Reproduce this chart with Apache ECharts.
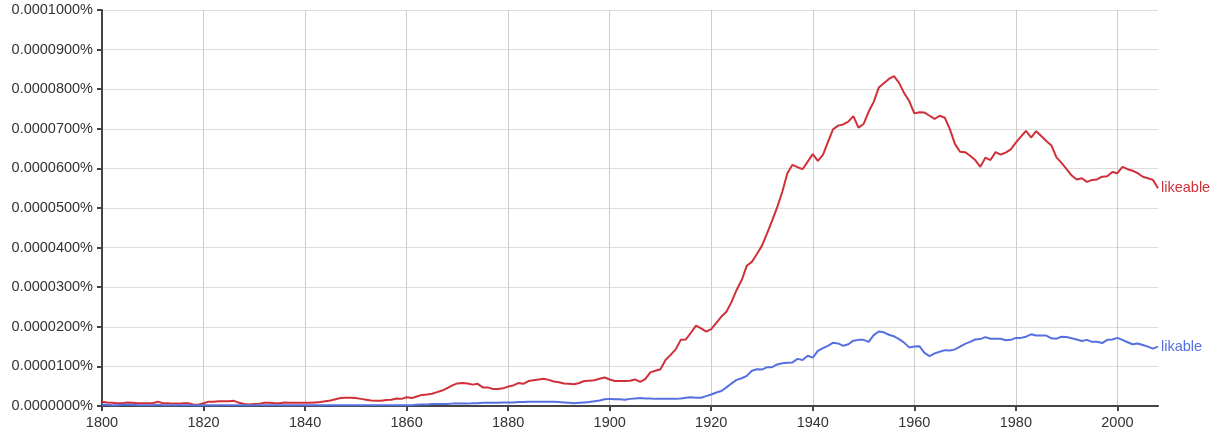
<!DOCTYPE html>
<html>
<head>
<meta charset="utf-8">
<script src="https://cdn.jsdelivr.net/npm/echarts@6/dist/echarts.min.js"></script>
<style>
html,body{margin:0;padding:0;background:#fff;}
#chart{width:1225px;height:436px;}
</style>
</head>
<body>
<div id="chart"></div>
<script>
// Values in units of 0.0000001 %
var startYear = 1800;
var endYear = 2008;
var seriesNames = ['likeable', 'likable'];
var xTickLabels = [1800, 1820, 1840, 1860, 1880, 1900, 1920, 1940, 1960, 1980, 2000];
var likeable = [
  11,9,8,7,7,9,8,7,7,7,
  7,11,7,7,6,6,7,7,4,3,
  7,11,11,12,12,12,13,8,5,4,
  5,6,8,8,7,7,9,8,8,8,
  8,8,9,10,12,14,17,20,21,21,
  20,18,16,14,13,13,15,16,19,18,
  22,20,24,28,29,31,35,39,45,52,
  57,58,57,54,56,47,47,43,43,45,
  49,52,58,56,63,65,67,69,66,62,
  60,57,56,55,58,63,64,65,69,72,
  67,63,63,63,64,67,61,68,85,89,
  93,116,129,143,167,168,185,203,196,188,
  194,210,226,238,263,293,318,354,364,384,
  405,436,468,502,541,588,609,603,598,617,
  636,619,634,667,699,708,711,718,732,703,
  712,743,768,804,815,826,833,816,790,770,
  739,742,741,733,725,733,728,699,662,642,
  641,632,621,604,627,621,641,635,640,648,
  665,680,695,678,694,682,669,658,628,614,
  598,582,572,575,566,571,572,579,580,591,
  588,604,598,594,588,579,575,571,550
];
var likable = [
  3,3,2,2,3,4,3,2,2,2,
  2,3,2,2,2,2,2,2,2,1,
  2,2,2,2,2,2,2,2,2,2,
  2,2,2,2,2,2,2,2,2,2,
  2,2,2,2,2,2,2,2,2,2,
  2,2,2,2,2,2,2,2,2,2,
  2,2,3,4,4,5,5,5,5,6,
  6,6,6,7,7,8,8,8,8,9,
  9,9,10,10,11,11,11,11,11,11,
  10,9,8,7,8,9,10,12,14,17,
  18,17,17,16,18,19,20,19,19,18,
  18,18,18,18,19,21,22,21,21,25,
  29,34,38,47,57,66,70,76,89,93,
  92,98,98,105,108,109,110,119,116,127,
  122,139,146,152,160,158,152,156,165,167,
  167,162,179,188,186,180,176,169,160,148,
  150,151,134,126,133,137,141,140,143,150,
  157,162,168,169,174,170,170,170,166,167,
  172,172,175,181,178,178,178,171,170,175,
  174,171,168,164,167,162,162,159,167,168,
  172,167,161,156,158,154,150,145,150
];
var yMax = 1000;
var yStep = 100;
var xStep = 20;

function pairs(arr){
  var out = [];
  for (var i = 0; i < arr.length; i++) out.push([startYear + i, arr[i]]);
  return out;
}

var colors = ['#d0303a', '#5670e0'];
var font = '"Liberation Sans", Arial, Helvetica, sans-serif';
var fs = 14.5;

var chart = echarts.init(document.getElementById('chart'), null, {renderer:'canvas'});
chart.setOption({
  animation: false,
  grid: {left: 102, right: 67, top: 10, bottom: 30, containLabel: false},
  xAxis: {
    type: 'value', min: startYear, max: endYear, interval: xStep,
    axisLine: {show: true, lineStyle: {color: '#444', width: 2}},
    axisTick: {show: true, length: 5, inside: false, customValues: xTickLabels,
      lineStyle: {color: '#444', width: 2}},
    axisLabel: {color: '#333', fontSize: fs, fontFamily: font, margin: 9,
      customValues: xTickLabels,
      formatter: function(v){ return String(v); }},
    splitLine: {show: true, lineStyle: {color: '#cccccc', width: 1}}
  },
  yAxis: {
    type: 'value', min: 0, max: yMax, interval: yStep,
    axisLine: {show: true, lineStyle: {color: '#444', width: 2}},
    axisTick: {show: true, length: 5, inside: false, lineStyle: {color: '#444', width: 2}},
    axisLabel: {color: '#333', fontSize: fs, fontFamily: font, margin: 9,
      formatter: function(v){ return (v / 1e7).toFixed(7) + '%'; }},
    splitLine: {show: true, lineStyle: {color: '#dddddd', width: 1}}
  },
  series: [
    {
      name: seriesNames[0], type: 'line', data: pairs(likeable),
      showSymbol: false, symbol: 'none', smooth: false,
      lineStyle: {color: colors[0], width: 2}, itemStyle: {color: colors[0]},
      endLabel: {show: true, formatter: '{a}', color: colors[0], fontSize: fs, fontFamily: font, distance: 3}
    },
    {
      name: seriesNames[1], type: 'line', data: pairs(likable),
      showSymbol: false, symbol: 'none', smooth: false,
      lineStyle: {color: colors[1], width: 2}, itemStyle: {color: colors[1]},
      endLabel: {show: true, formatter: '{a}', color: colors[1], fontSize: fs, fontFamily: font, distance: 3}
    }
  ]
});
</script>
</body>
</html>
